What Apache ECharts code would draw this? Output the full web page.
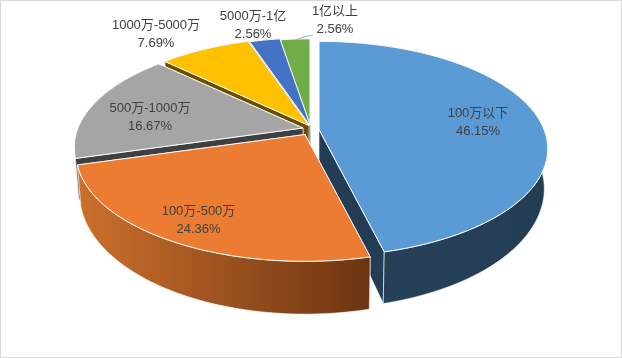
<!DOCTYPE html>
<html><head><meta charset="utf-8">
<style>html,body{margin:0;padding:0;background:#fff}#c{width:622px;height:358px}</style>
<script src="https://cdn.jsdelivr.net/npm/echarts@6/dist/echarts.min.js"></script></head>
<body><div id="c"></div>
<script>
var categories = ['100万以下','100万-500万','500万-1000万','1000万-5000万','5000万-1亿','1亿以上'];
var percents = [46.15,24.36,16.67,7.69,2.56,2.56];

var topColors = ['#5B9BD5','#EB7C31','#A5A5A5','#FFC000','#4472C4','#70AD47'];
var wallFrom = ['#264259','#CC702B','#8f8f8f','#a07800','#2a4a80','#47702c'];
var wallTo = ['#233d54','#6C3412','#6f6f6f','#6b5000','#203864','#3f6428'];
var edgeColors = ['#233d54','#6C3412','#3f3f3f','#6b5000','#203864','#3f6428'];
var apexes = [[319,129.5],[305,134.5],[303,128],[309,125.5],[310.5,126],[310,127]];
var labelPos = [[478,122],[198.5,220],[150,117],[156,34],[253,25],[335,20]];
var paintRank = [4,5,3,2,1,0];
var A = 225, B = 104, K = 0.18;

var total = percents.reduce(function(a,b){return a+b;},0);
function project(ap,deg){
  var t = deg*Math.PI/180, d = Math.cos(t), s = 1/(1+K*d);
  return [ap[0]+A*Math.sin(t)*s, ap[1]-B*d*s];
}
function drop(ap,p){
  return [ap[0]+(p[0]-ap[0])*0.985, p[1]+40+(p[1]-150)*0.115];
}
function arc(ap,a0,a1){
  var pts=[], n=Math.max(2,Math.ceil((a1-a0)/1.5));
  for(var i=0;i<=n;i++) pts.push(project(ap,a0+(a1-a0)*i/n));
  return pts;
}
function renderItem(params,api){
  var i = params.dataIndex, v = api.value(0), before = 0;
  for(var j=0;j<i;j++) before += percents[j];
  var a0 = before/total*360, a1 = (before+v)/total*360;
  var ap = apexes[i], rim = arc(ap,a0,a1), z = paintRank[i]*10;
  var apB = drop(ap,ap), rimB = rim.map(function(p){return drop(ap,p);});
  var thin = {stroke:'rgba(255,255,255,0.8)',lineWidth:0.75};
  function poly(points,fill,zz,st){
    return {type:'polygon',shape:{points:points},z2:zz,
      style:{fill:fill,stroke:(st||thin).stroke,lineWidth:(st||thin).lineWidth,lineJoin:'round'}};
  }
  var first=rim[0], last=rim[rim.length-1], firstB=rimB[0], lastB=rimB[rimB.length-1];
  var grad = {type:'linear',x:0,y:0,x2:1,y2:0,colorStops:[{offset:0,color:wallFrom[i]},{offset:1,color:wallTo[i]}]};
  var startEdgeZ = i>=2 ? z+3 : z+1;
  var children = [
    poly([ap,first,firstB,apB],edgeColors[i],startEdgeZ),
    poly([ap,last,lastB,apB],edgeColors[i],z+1),
    poly(rim.concat(rimB.slice().reverse()),grad,z+2),
    poly([ap].concat(rim),topColors[i],z+4,{stroke:'#fff',lineWidth:1}),
    {type:'text',z2:200,style:{text:categories[i]+'\n'+v.toFixed(2)+'%',x:labelPos[i][0],y:labelPos[i][1],
      align:'center',verticalAlign:'middle',fill:'#404040',lineHeight:18,
      font:'13px "Liberation Sans","Noto Sans CJK SC",sans-serif'}}
  ];
  if(i===5){
    children.push({type:'polyline',z2:199,shape:{points:[[295,40],[304,37],[313,35]]},
      style:{stroke:'#a6a6a6',lineWidth:1,fill:null}});
  }
  return {type:'group',children:children};
}
var chart = echarts.init(document.getElementById('c'),null,{renderer:'canvas'});
chart.setOption({
  animation:false,
  backgroundColor:'#fff',
  graphic:[{type:'rect',silent:true,z:100,shape:{x:0.5,y:0.5,width:621,height:357},
    style:{fill:null,stroke:'#d9d9d9',lineWidth:1}}],
  series:[{type:'custom',coordinateSystem:'none',silent:true,renderItem:renderItem,data:percents}]
});
</script></body></html>
